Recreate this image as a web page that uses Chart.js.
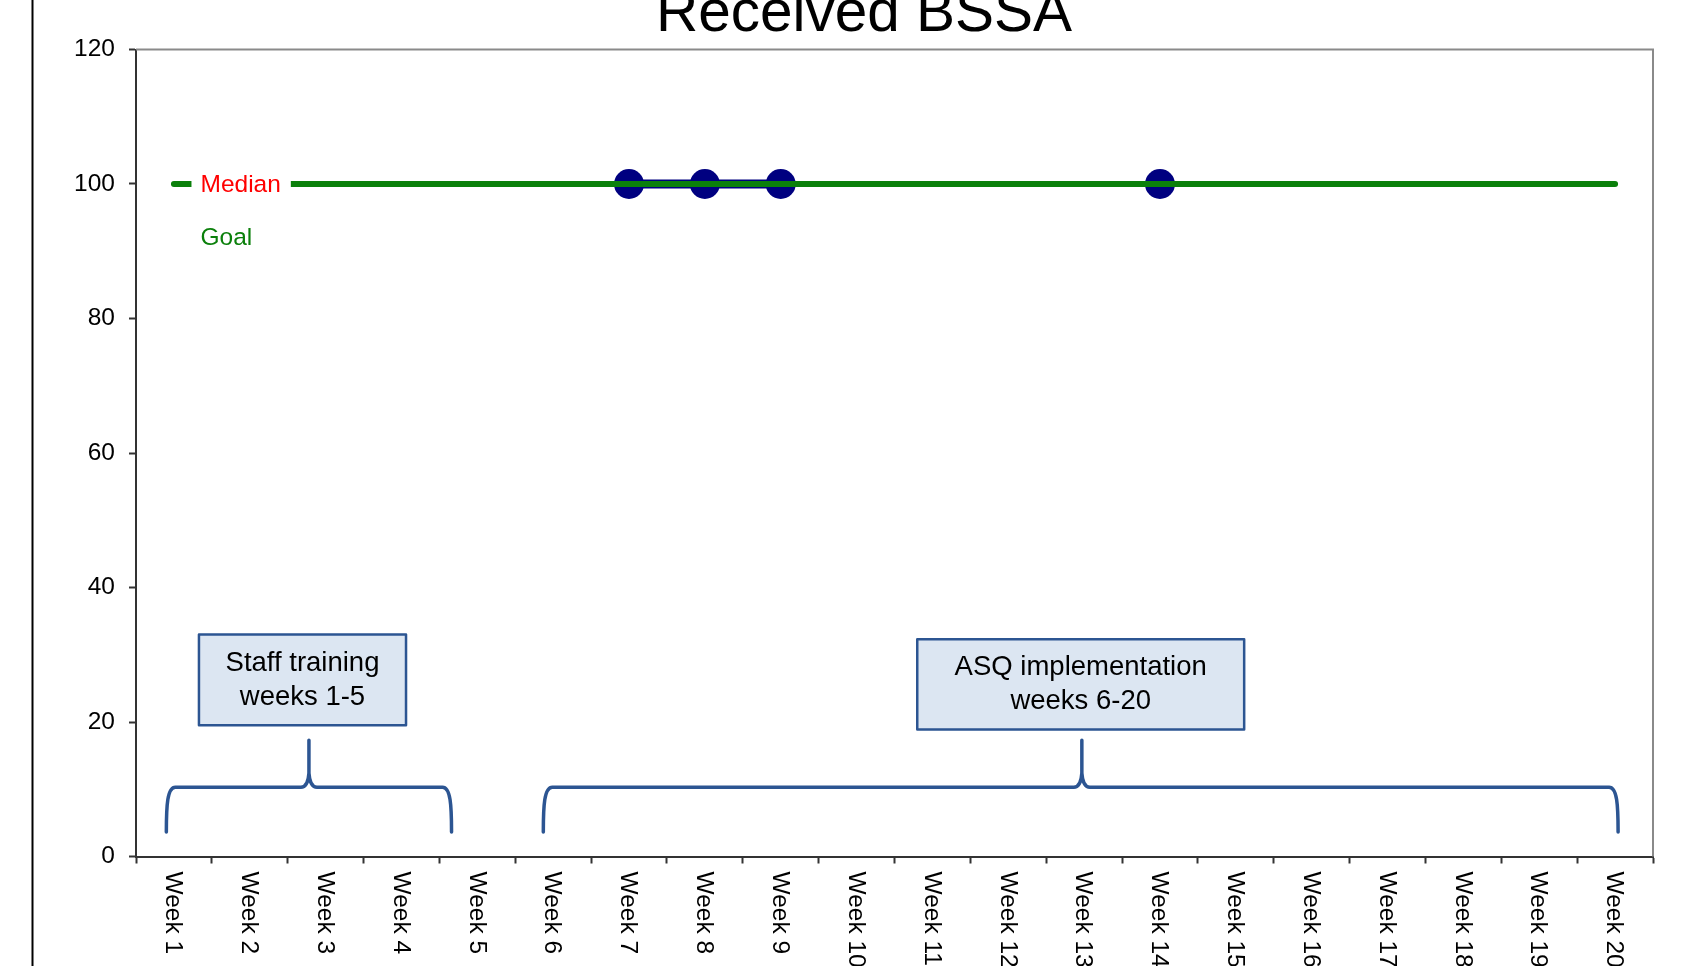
<!DOCTYPE html>
<html>
<head>
<meta charset="utf-8">
<script src="https://cdn.jsdelivr.net/npm/chart.js@4.4.1/dist/chart.umd.min.js"></script>
<style>
  html, body { margin: 0; padding: 0; background: #ffffff; }
  canvas { display: block; }
</style>
</head>
<body>
<canvas id="chart" width="1688" height="966"></canvas>
<script>
// ---- data ----
const weeks = ['Week 1', 'Week 2', 'Week 3', 'Week 4', 'Week 5', 'Week 6', 'Week 7',
  'Week 8', 'Week 9', 'Week 10', 'Week 11', 'Week 12', 'Week 13', 'Week 14',
  'Week 15', 'Week 16', 'Week 17', 'Week 18', 'Week 19', 'Week 20'];
const receivedBSSA = [null, null, null, null, null, null, 100, 100, 100, null,
  null, null, null, 100, null, null, null, null, null, null];
const goal = [100, 100, 100, 100, 100, 100, 100, 100, 100, 100,
  100, 100, 100, 100, 100, 100, 100, 100, 100, 100];
const yTicks = [0, 20, 40, 60, 80, 100, 120];
const chartTitle = 'Received BSSA';
const phaseText = [['Staff training', 'weeks 1-5'], ['ASQ implementation', 'weeks 6-20']];

// ---- annotation placement (category index / value units) ----
const phases = [
  { brace: [-0.1, 1.78, 3.66], box: [0.33, 3.06, 33.0, 19.5], text: phaseText[0] },
  { brace: [4.87, 11.97, 19.04], box: [9.80, 14.11, 32.3, 18.9], text: phaseText[1] }
];
const braceLevels = { end: 3.65, bar: 10.3, tip: 17.3 };

const FONT = '"Liberation Sans", Arial, sans-serif';
const BLUE = '#2c5592';
const GREEN = '#0b800b';

const decor = {
  id: 'decor',
  beforeDraw(chart) {
    const ctx = chart.ctx;
    ctx.save();
    ctx.fillStyle = '#ffffff';
    ctx.fillRect(0, 0, chart.width, chart.height);
    // left page frame line
    ctx.strokeStyle = '#000000';
    ctx.lineWidth = 2;
    ctx.beginPath();
    ctx.moveTo(32.5, 0);
    ctx.lineTo(32.5, chart.height);
    ctx.stroke();
    // title (baseline near the top edge)
    ctx.fillStyle = '#000000';
    ctx.font = '58.5px ' + FONT;
    ctx.textAlign = 'center';
    ctx.textBaseline = 'alphabetic';
    ctx.fillText(chartTitle, 864, 31);
    ctx.restore();
  },
  beforeDatasetsDraw(chart) {
    const { ctx, chartArea: a } = chart;
    ctx.save();
    ctx.strokeStyle = '#8a8a8a';
    ctx.lineWidth = 2;
    ctx.beginPath();
    ctx.moveTo(a.left, a.top);
    ctx.lineTo(a.right, a.top);
    ctx.lineTo(a.right, a.bottom);
    ctx.stroke();
    ctx.restore();
  },
  afterDatasetsDraw(chart) {
    const ctx = chart.ctx;
    const xs = chart.scales.x, ys = chart.scales.y;
    const px = v => xs.getPixelForValue(v);
    const py = v => ys.getPixelForValue(v);
    ctx.save();

    // curly braces under each phase
    ctx.strokeStyle = BLUE;
    ctx.lineWidth = 3.5;
    ctx.lineCap = 'round';
    ctx.lineJoin = 'round';
    const yEnd = py(braceLevels.end), yBar = py(braceLevels.bar), yTip = py(braceLevels.tip);
    phases.forEach(p => {
      const x0 = px(p.brace[0]), xm = px(p.brace[1]), x1 = px(p.brace[2]);
      ctx.beginPath();
      ctx.moveTo(x0, yEnd);
      ctx.bezierCurveTo(x0, yBar + 18, x0 + 1, yBar, x0 + 9, yBar);
      ctx.lineTo(xm - 8, yBar);
      ctx.quadraticCurveTo(xm - 1, yBar, xm, yBar - 14);
      ctx.lineTo(xm, yTip);
      ctx.moveTo(xm, yBar - 14);
      ctx.quadraticCurveTo(xm + 1, yBar, xm + 8, yBar);
      ctx.lineTo(x1 - 9, yBar);
      ctx.bezierCurveTo(x1 - 1, yBar, x1, yBar + 18, x1, yEnd);
      ctx.stroke();
    });

    // phase text boxes
    phases.forEach(p => {
      const l = px(p.box[0]), r = px(p.box[1]), t = py(p.box[2]), b = py(p.box[3]);
      ctx.fillStyle = '#dce6f2';
      ctx.fillRect(l, t, r - l, b - t);
      ctx.strokeStyle = BLUE;
      ctx.lineWidth = 2.5;
      ctx.strokeRect(l, t, r - l, b - t);
      ctx.fillStyle = '#000000';
      ctx.font = '27.5px ' + FONT;
      ctx.textAlign = 'center';
      ctx.textBaseline = 'middle';
      const cx = (l + r) / 2, cy = (t + b) / 2;
      ctx.fillText(p.text[0], cx, cy - 17);
      ctx.fillText(p.text[1], cx, cy + 17);
    });

    // line labels
    ctx.font = '24.5px ' + FONT;
    ctx.textAlign = 'left';
    ctx.textBaseline = 'middle';
    const lx = px(0.35);
    const my = py(100);
    const mw = ctx.measureText('Median').width;
    ctx.fillStyle = '#ffffff';
    ctx.fillRect(lx - 9, my - 14, mw + 19, 28);
    ctx.fillStyle = '#ff0000';
    ctx.fillText('Median', lx, my + 1);
    ctx.fillStyle = GREEN;
    ctx.fillText('Goal', lx, py(92.0));

    ctx.restore();
  },
  afterDraw(chart) {
    // rotated week labels reading downward
    const ctx = chart.ctx;
    const xs = chart.scales.x;
    ctx.save();
    ctx.fillStyle = '#000000';
    ctx.font = '24.5px ' + FONT;
    ctx.textAlign = 'left';
    ctx.textBaseline = 'middle';
    weeks.forEach((w, i) => {
      ctx.save();
      ctx.translate(xs.getPixelForValue(i) - 1, chart.chartArea.bottom + 15);
      ctx.rotate(Math.PI / 2);
      ctx.fillText(w, 0, 0);
      ctx.restore();
    });
    ctx.restore();
  }
};

new Chart(document.getElementById('chart'), {
  type: 'line',
  data: {
    labels: weeks,
    datasets: [
      {
        label: 'Goal',
        data: goal,
        borderColor: GREEN,
        borderWidth: 6,
        borderCapStyle: 'round',
        pointRadius: 0,
        pointHoverRadius: 0,
        fill: false,
        order: 0
      },
      {
        label: 'Received BSSA',
        data: receivedBSSA,
        borderColor: '#000080',
        backgroundColor: '#000080',
        borderWidth: 9,
        pointRadius: 15,
        pointHoverRadius: 15,
        pointBackgroundColor: '#000080',
        pointBorderWidth: 0,
        spanGaps: false,
        fill: false,
        order: 1
      }
    ]
  },
  options: {
    responsive: false,
    animation: false,
    devicePixelRatio: 1,
    layout: { padding: { top: 49.5, right: 35, left: 0, bottom: 0 } },
    plugins: {
      legend: { display: false },
      title: { display: false },
      tooltip: { enabled: false }
    },
    scales: {
      x: {
        type: 'category',
        offset: true,
        grid: {
          offset: true,
          drawOnChartArea: false,
          drawTicks: true,
          tickLength: 7,
          tickWidth: 2,
          color: '#333333'
        },
        border: { display: true, color: '#333333', width: 2 },
        ticks: { display: false },
        afterFit(scale) { scale.height = 109.5; }
      },
      y: {
        min: 0,
        max: 120,
        afterBuildTicks(scale) { scale.ticks = yTicks.map(v => ({ value: v })); },
        grid: {
          drawOnChartArea: false,
          drawTicks: true,
          tickLength: 7,
          tickWidth: 2,
          color: '#333333'
        },
        border: { display: true, color: '#333333', width: 2 },
        ticks: {
          padding: 14,
          color: '#000000',
          font: { family: FONT, size: 24.5 }
        },
        afterFit(scale) { scale.width = 136; }
      }
    }
  },
  plugins: [decor]
});
</script>
</body>
</html>
